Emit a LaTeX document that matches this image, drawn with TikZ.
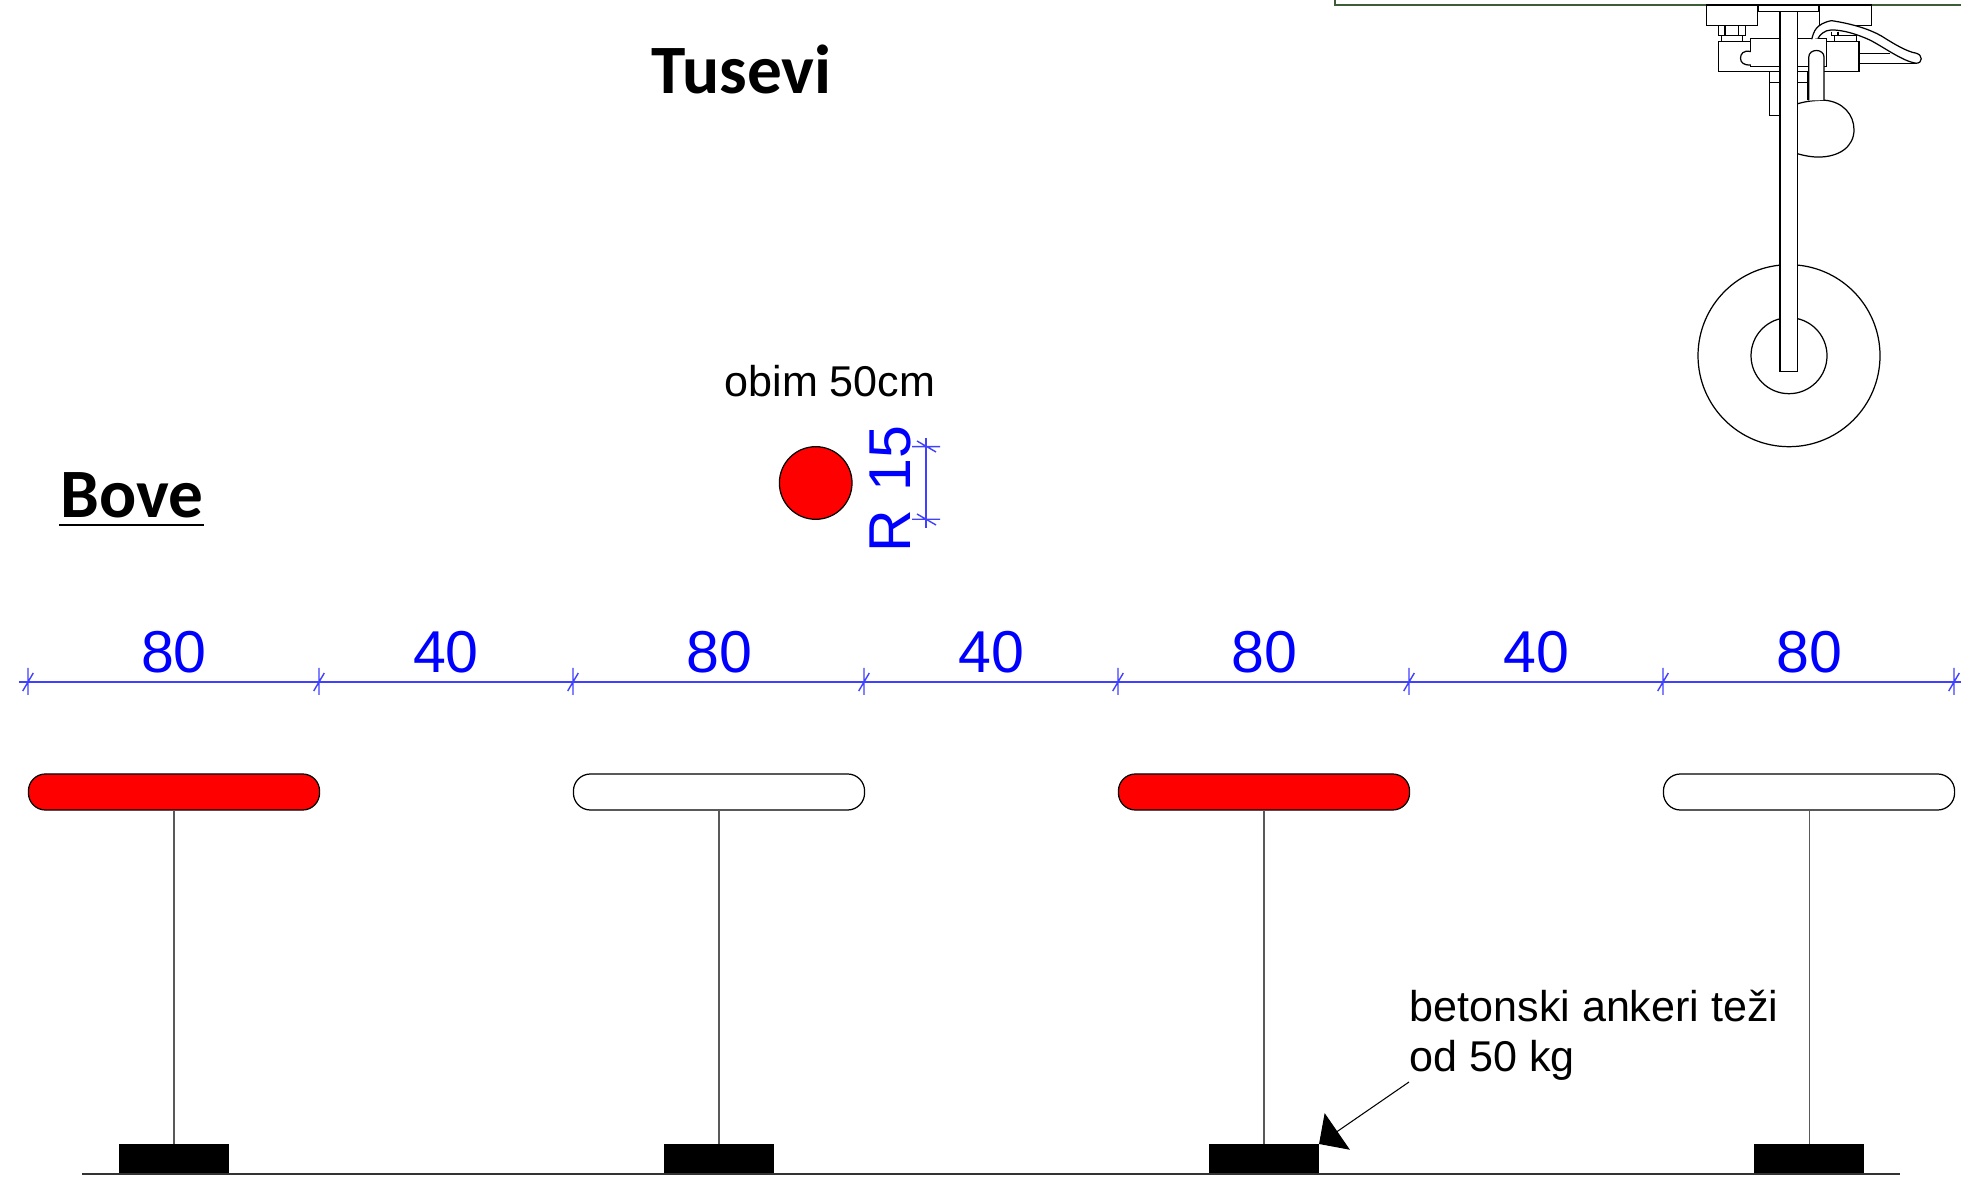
\documentclass[tikz,border=0pt]{standalone}
\usepackage{fontspec}
\setmainfont{Liberation Sans}
\newfontfamily\headfont{Carlito}
\usetikzlibrary{arrows.meta}
\definecolor{dimblue}{RGB}{64,64,255}
\definecolor{framegreen}{RGB}{62,92,56}
\tikzset{
  buoybar/.style={draw=black, line width=0.35pt, rounded corners=0.17cm, minimum width=2.91cm, minimum height=0.36cm, inner sep=0pt, outer sep=0pt},
  anchorblock/.style={fill=black, minimum width=1.1cm, minimum height=0.3cm, inner sep=0pt, outer sep=0pt},
  dimline/.style={draw=dimblue, line width=0.4pt},
  dimtext/.style={text=blue, font=\fontsize{16.8}{20}\selectfont, inner sep=0pt},
  notetext/.style={font=\fontsize{12.25}{14.2}\selectfont, inner sep=0pt, align=left},
  headtext/.style={font=\headfont\bfseries\fontsize{19.7}{23}\selectfont, inner sep=0pt},
  gear/.style={draw=black, line width=0.35pt}
}
\begin{document}
\begin{tikzpicture}[x=0.01cm, y=-0.01cm]
\useasboundingbox (0,0) rectangle (1961,1180);
% headings
\node[headtext, anchor=base west] (tusevi) at (651,94) {Tusevi};
\node[headtext, anchor=base west] (bove) at (60,518) {Bove};
\draw[line width=0.35pt] (59,525) -- (204,525);
% round buoy
\node[notetext, anchor=base west] (obim) at (724,397) {obim 50cm};
\node[circle, draw=black, line width=0.35pt, fill=red, minimum size=0.726cm, inner sep=0pt] (tus) at (815.7,483) {};
\node[dimtext, rotate=90, anchor=base] (radius) at (910,489) {R\ \kern0.6pt 15};
\draw[dimline] (926,438) -- (926,528);
\draw[dimline] (912,446.7) -- (940,446.7) (917,441) -- (936,452);
\draw[dimline] (912,519.3) -- (940,519.3) (917,514) -- (936,525);
% dimension chain
\draw[dimline] (19,682) -- (1961,682);
\foreach \i/\x in {1/28,2/319,3/573,4/864,5/1118,6/1409,7/1663,8/1954} {
  \coordinate (tick\i) at (\x,682);
  \draw[dimline] (tick\i) ++(0,-14) -- ++(0,27) (tick\i) ++(-5.3,9) -- ++(10.6,-18);
}
\foreach \i/\x/\t in {1/174/80,2/446/40,3/719/80,4/991/40,5/1264/80,6/1536/40,7/1809/80} {
  \node[dimtext, anchor=base] (size\i) at (\x,673) {\t};
}
% bars on anchors
\foreach \i/\x/\c in {1/174/red,2/719/white,3/1264/red,4/1809/white} {
  \node[buoybar, fill=\c] (bar\i) at (\x,792) {};
  \node[anchorblock] (block\i) at (\x,1159) {};
  \draw[line width=0.3pt, black!65] (bar\i) -- (block\i);
}
\coordinate (groundL) at (82,1174);
\coordinate (groundR) at (1900,1174);
\draw[line width=0.35pt, black!80] (groundL) -- (groundR);
% anchor note
\node[notetext, anchor=base west] (note) at (1409,1071.5) {betonski ankeri teži\\od 50 kg};
\coordinate (noteend) at (1409,1082);
\draw[line width=0.3pt, -{Triangle[length=6.3pt, width=12.6pt]}] (noteend) -- (block3.north east);
% landing gear
\draw[framegreen, line width=0.5pt] (1334.7,0) -- (1334.7,5.3) -- (1961,5.3);
\draw[gear] (1789,355.7) circle [radius=91];
\draw[gear] (1789,355.7) circle [radius=38];
\begin{scope}[shift={(1640,0)}, x=0.003333cm, y=-0.003333cm]
  \draw[gear] (199,15) rectangle (354,76);
  \draw[gear] (540,15) rectangle (695,76);
  \draw[gear] (355,15) rectangle (538,35);
  \draw[gear] (236,76) rectangle (318,107) (255,76) -- (255,107) (297,76) -- (297,107);
  \draw[gear] (245,107) rectangle (308,125);
  \draw[gear] (575,95) -- (575,107) -- (650,107) -- (650,125) (595,95) -- (595,107) (585,107) -- (585,125);
  \draw[gear] (236,125) rectangle (658,216);
  \draw[gear, fill=white] (333,115) rectangle (560,199);
  \draw[gear, fill=white] (333,155) .. controls (310,150) and (302,162) .. (302,175) .. controls (302,188) and (312,197) .. (333,195);
  \draw[gear] (390,216) -- (390,346) -- (420,346) (390,248) -- (420,248);
  \draw[gear] (473,216) -- (505,216) -- (505,300) (473,248) -- (505,248);
  \draw[gear] (658,160) -- (750,160) (658,190) -- (830,190);
  % strut
  \draw[gear, fill=white, line width=0.45pt] (420,35) rectangle (473,1116);
  % handle and knob
  \draw[gear, fill=white] (473,312) .. controls (500,304) and (520,302) .. (553,301) .. controls (610,305) and (643,345) .. (643,390) .. controls (643,440) and (600,472) .. (535,472) .. controls (515,472) and (495,468) .. (473,462);
  \draw[gear, fill=white] (507,302) -- (507,172) .. controls (507,145) and (553,145) .. (553,172) -- (553,301);
  \draw[gear, line width=0.45pt] (473,305) -- (473,470);
  % hose
  \draw[gear, fill=white] (516,118) .. controls (522,95) and (528,72) .. (575,62) .. controls (640,72) and (690,88) .. (725,108) .. controls (760,130) and (800,155) .. (830,160) .. controls (850,165) and (850,190) .. (830,190) .. controls (790,185) and (730,140) .. (690,120) .. controls (650,102) and (610,90) .. (575,90) .. controls (555,90) and (540,105) .. (535,115);
\end{scope}
\end{tikzpicture}
\end{document}
